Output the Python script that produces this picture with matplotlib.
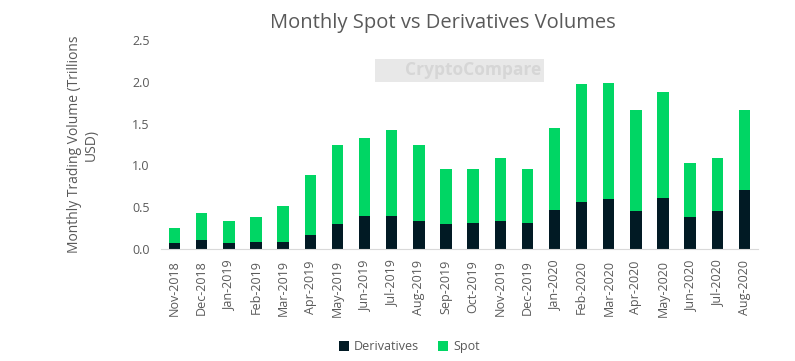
import numpy as np
import matplotlib.pyplot as plt

plt.rcParams['font.family'] = ['Open Sans', 'DejaVu Sans']

months = ['Nov-2018', 'Dec-2018', 'Jan-2019', 'Feb-2019', 'Mar-2019', 'Apr-2019',
          'May-2019', 'Jun-2019', 'Jul-2019', 'Aug-2019', 'Sep-2019', 'Oct-2019',
          'Nov-2019', 'Dec-2019', 'Jan-2020', 'Feb-2020', 'Mar-2020', 'Apr-2020',
          'May-2020', 'Jun-2020', 'Jul-2020', 'Aug-2020']
derivatives = [0.07, 0.11, 0.07, 0.08, 0.08, 0.17, 0.30, 0.40, 0.40, 0.34, 0.30,
               0.31, 0.34, 0.31, 0.47, 0.56, 0.60, 0.46, 0.61, 0.38, 0.46, 0.71]
totals = [0.25, 0.43, 0.34, 0.38, 0.51, 0.89, 1.24, 1.33, 1.42, 1.24, 0.96,
          0.96, 1.09, 0.96, 1.45, 1.97, 1.99, 1.66, 1.88, 1.03, 1.09, 1.66]
spot = [t - d for t, d in zip(totals, derivatives)]

DERIV_COLOR = '#011a24'
SPOT_COLOR = '#00d664'
TEXT_COLOR = '#595959'

fig = plt.figure(figsize=(7.95, 3.61), dpi=100)
ax = fig.add_axes([0.2025, 0.310, 0.751, 0.579])
x = np.arange(len(months))
ax.bar(x, derivatives, width=0.42, color=DERIV_COLOR, label='Derivatives')
ax.bar(x, spot, width=0.42, bottom=derivatives, color=SPOT_COLOR, label='Spot')

ax.set_xlim(-0.5, len(months) - 0.5)
ax.set_ylim(0, 2.5)
yticks = np.arange(0, 2.51, 0.5)
ax.set_yticks(yticks)
ax.set_yticklabels([f'{v:.1f}' for v in yticks])
ax.set_xticks(x)
ax.set_xticklabels(months, rotation=90)
ax.tick_params(colors=TEXT_COLOR, labelsize=9, length=0, pad=8)
for side in ['top', 'right', 'left']:
    ax.spines[side].set_visible(False)
ax.spines['bottom'].set_color('#d9d9d9')

ax.set_ylabel('Monthly Trading Volume (Trillions\nUSD)', color=TEXT_COLOR,
              fontsize=10, labelpad=24)
fig.suptitle('Monthly Spot vs Derivatives Volumes', color=TEXT_COLOR,
             fontsize=14.5, x=0.557, y=0.965)

# watermark
fig.text(0.578, 0.805, '      CryptoCompare', color='#d6d6d6', fontsize=12.5,
         fontweight='bold', ha='center', va='center',
         bbox=dict(facecolor='#e8e8e8', edgecolor='none', pad=2))

fig.legend(loc='lower center', ncol=2, frameon=False, fontsize=9,
           bbox_to_anchor=(0.515, -0.01), handlelength=0.8, handleheight=0.8,
           handletextpad=0.4, columnspacing=1.5, labelcolor=TEXT_COLOR)

fig.savefig('out.png', dpi=100)
